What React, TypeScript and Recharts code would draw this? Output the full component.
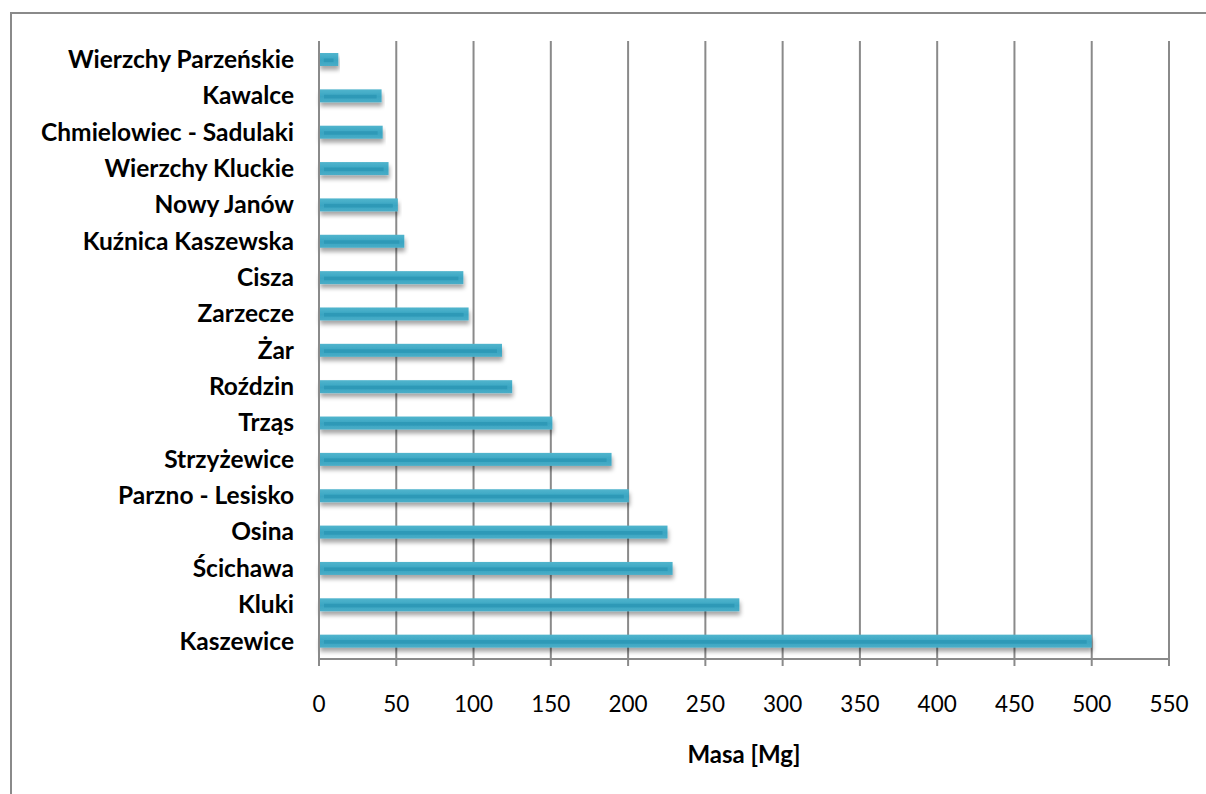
import { BarChart, Bar, XAxis, YAxis, CartesianGrid } from 'recharts';

// Masa w Mg, od góry wykresu do dołu
const villages = [
  'Wierzchy Parzeńskie',
  'Kawalce',
  'Chmielowiec - Sadulaki',
  'Wierzchy Kluckie',
  'Nowy Janów',
  'Kuźnica Kaszewska',
  'Cisza',
  'Zarzecze',
  'Żar',
  'Roździn',
  'Trząs',
  'Strzyżewice',
  'Parzno - Lesisko',
  'Osina',
  'Ścichawa',
  'Kluki',
  'Kaszewice',
];
const masses = [12.5, 40.5, 41.2, 45, 51, 55.2, 93.4, 96.8, 118.4, 125, 151, 189.3, 200.5, 225.5, 228.8, 272, 500];
const massTicks = [0, 50, 100, 150, 200, 250, 300, 350, 400, 450, 500, 550];

const data = villages.map((name, i) => ({ name, masa: masses[i] }));

const FONT = 'Lato, "Open Sans", sans-serif';

function BarShape(props: any) {
  const { x, y, width, height } = props;
  if (!width || width <= 0) return null;
  const inset = Math.min(5, width / 4);
  return (
    <g filter="url(#barShadow)">
      <rect x={x} y={y} width={width} height={height} fill="url(#barFill)" />
      <rect
        x={x + inset}
        y={y + height * 0.42}
        width={Math.max(0, width - inset * 2)}
        height={height * 0.28}
        fill="#2b96b4"
        opacity={0.8}
      />
    </g>
  );
}

export default function App() {
  return (
    <div style={{ position: 'fixed', left: 0, top: 0, width: 1206, height: 794, overflow: 'hidden', background: '#fff' }}>
      {/* ramka wykresu: tylko lewa i górna krawędź są widoczne */}
      <div
        style={{
          position: 'absolute',
          left: 10,
          top: 12,
          width: 1300,
          height: 900,
          borderTop: '2px solid #8a8a8a',
          borderLeft: '2px solid #8a8a8a',
        }}
      />
      <div style={{ position: 'absolute', left: 0, top: 0 }}>
        <BarChart
          width={1206}
          height={794}
          data={data}
          layout="vertical"
          margin={{ top: 41, right: 37, left: 0, bottom: 20 }}
        >
          <defs>
            <linearGradient id="barFill" x1="0" y1="0" x2="0" y2="1">
              <stop offset="0%" stopColor="#52b5cd" />
              <stop offset="30%" stopColor="#43acc7" />
              <stop offset="55%" stopColor="#3aa5c2" />
              <stop offset="100%" stopColor="#49adc7" />
            </linearGradient>
            <filter id="barShadow" x="-5%" y="-40%" width="110%" height="220%">
              <feDropShadow dx="1" dy="4" stdDeviation="2.2" floodColor="#000" floodOpacity="0.35" />
            </filter>
          </defs>
          <CartesianGrid horizontal={false} stroke="#8a8a8a" strokeWidth={2} />
          <XAxis
            type="number"
            domain={[0, 550]}
            ticks={massTicks}
            interval={0}
            height={115}
            stroke="#8a8a8a"
            strokeWidth={2}
            tickSize={7}
            tickMargin={30}
            tick={{ fill: '#000', fontSize: 22.5, fontFamily: FONT }}
            label={{
              value: 'Masa [Mg]',
              position: 'insideBottom',
              offset: 11,
              fill: '#000',
              fontSize: 24,
              fontWeight: 700,
              fontFamily: FONT,
            }}
          />
          <YAxis
            type="category"
            dataKey="name"
            width={319}
            interval={0}
            stroke="#8a8a8a"
            strokeWidth={2}
            tickLine={false}
            tickSize={0}
            tickMargin={25}
            tick={{ fill: '#000', fontSize: 24.5, fontWeight: 700, fontFamily: FONT }}
          />
          <Bar dataKey="masa" barSize={13} shape={<BarShape />} isAnimationActive={false} />
        </BarChart>
      </div>
    </div>
  );
}
